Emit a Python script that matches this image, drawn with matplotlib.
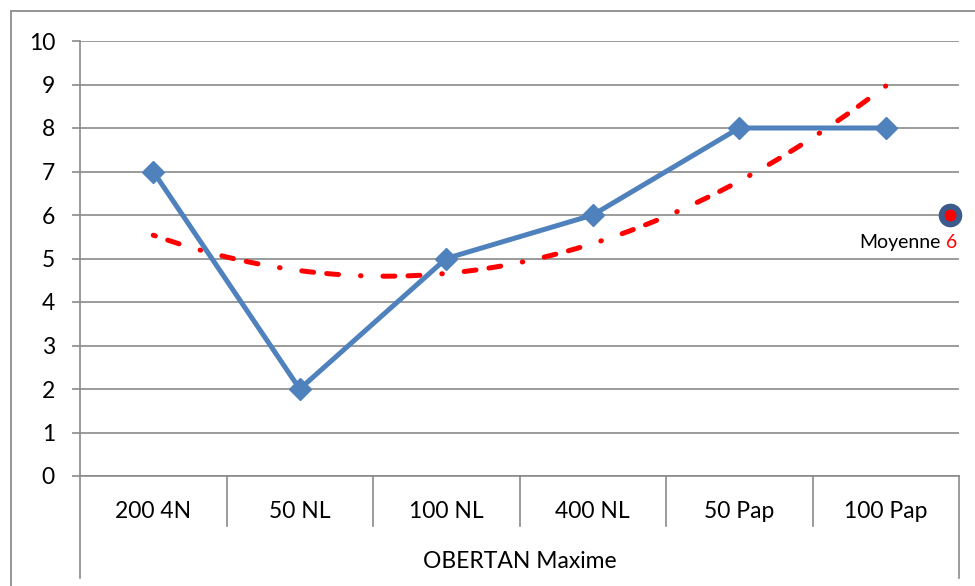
import numpy as np
import matplotlib
matplotlib.use("Agg")
import matplotlib.pyplot as plt
from matplotlib.patches import Rectangle
from matplotlib.lines import Line2D

categories = ["200 4N", "50 NL", "100 NL", "400 NL", "50 Pap", "100 Pap"]
values = [7, 2, 5, 6, 8, 8]
group_label = "OBERTAN Maxime"
mean_value = 6
mean_label = "Moyenne"
y_ticks = list(range(0, 11))

plt.rcParams['font.family'] = ['Lato', 'DejaVu Sans']

W, H = 975, 586
fig = plt.figure(figsize=(W / 100, H / 100), dpi=100)
L, R, B, T = 80, 959, 476, 41
ax = fig.add_axes([L / W, 1 - B / H, (R - L) / W, (B - T) / H])

grid_c = "#8a8a8a"
x = np.arange(1, len(categories) + 1)
fs = 16.5

ax.set_xlim(0.5, len(categories) + 0.5)
ax.set_ylim(0, 10)
ax.set_yticks(y_ticks)
ax.yaxis.grid(True, color=grid_c, lw=1.2)
ax.set_axisbelow(True)
for s in ["top", "right", "bottom"]:
    ax.spines[s].set_visible(False)
ax.spines["left"].set_color(grid_c)
ax.spines["left"].set_linewidth(1.2)
ax.tick_params(axis="y", length=6, width=1.2, color=grid_c, pad=12, labelsize=fs)
ax.tick_params(axis="x", length=0, labelbottom=False)
ax.axhline(0, color=grid_c, lw=1.2, clip_on=False)

# trend line (2nd order polynomial fit)
coef = np.polyfit(x, values, 2)
xs = np.linspace(x[0], x[-1], 400)
ys = np.polyval(coef, xs)
lw_t = 3.6
pattern = [8.6, 9.4, 8.6, 15.8, 0.4, 15.8]
period = sum(pattern)
disp = ax.transData.transform(np.column_stack([xs, ys]))
length_pt = np.sum(np.hypot(*np.diff(disp, axis=0).T)) * 72 / fig.dpi
dot_mid = sum(pattern[:4]) + pattern[4] / 2
offset = (dot_mid - length_pt) % period
ax.plot(xs, ys, color="#ff0000", lw=lw_t,
        dash_capstyle="round", solid_capstyle="round",
        linestyle=(offset / lw_t, tuple(p / lw_t for p in pattern)),
        zorder=3)

# main series
ax.plot(x, values, color="#4f81bd", lw=3.6, marker="D", markersize=11.5,
        markerfacecolor="#4f81bd", markeredgecolor="#4f81bd", zorder=4)

# mean point
mx = 6.44
ax.plot([mx], [mean_value], marker="o", markersize=16, color="#3b5b8c",
        clip_on=False, zorder=5)
ax.plot([mx], [mean_value], marker="o", markersize=7.5, color="#ff0000",
        clip_on=False, zorder=6)
t6 = ax.annotate(str(mean_value), xy=(mx, mean_value), xytext=(5, -20),
                 textcoords="offset points", ha="right", va="center",
                 color="#ff0000", fontsize=14, annotation_clip=False)
ax.annotate(mean_label, xy=(0, 0.5), xycoords=t6, xytext=(-4, 0),
            textcoords="offset points", ha="right", va="center",
            color="black", fontsize=14, annotation_clip=False)

# category labels and separators
axh = B - T
xt = ax.get_xaxis_transform()
for i, c in enumerate(categories):
    ax.text(x[i], -36 / axh, c, transform=xt, ha="center", va="center", fontsize=fs)
bounds = np.arange(0.5, len(categories) + 1, 1.0)
for j, b in enumerate(bounds):
    depth = 102 if j in (0, len(bounds) - 1) else 50
    ax.add_line(Line2D([b, b], [0, -depth / axh], transform=xt, color=grid_c,
                       lw=1.2, clip_on=False))
ax.text(np.mean(x), -86 / axh, group_label, transform=xt, ha="center",
        va="center", fontsize=fs)

# outer chart frame
fig.patches.append(Rectangle((11 / W, -0.2), 1.5, 1 - 11 / H + 0.2,
                             transform=fig.transFigure, fill=False,
                             edgecolor="#8c8c8c", lw=1.3))

fig.savefig("out.png", dpi=100)
